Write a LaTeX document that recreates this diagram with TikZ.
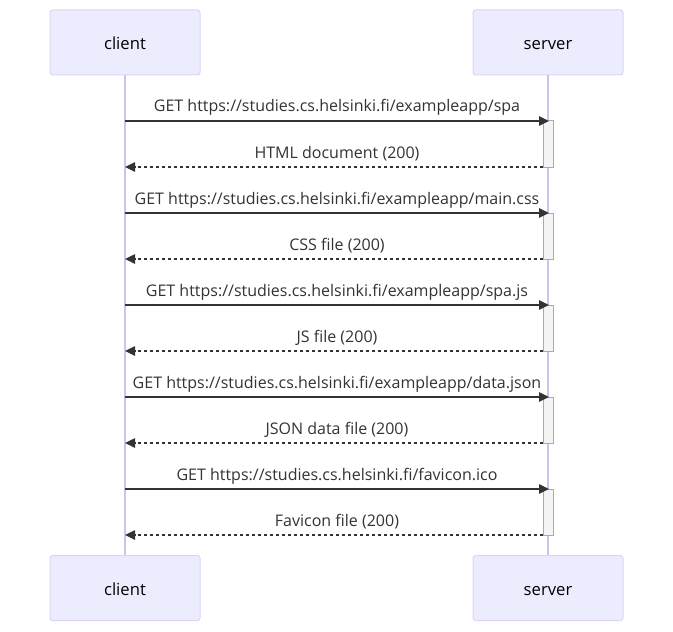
\documentclass[tikz,border=0pt]{standalone}
\usepackage{fontspec}
\setmainfont{Open Sans}
\usetikzlibrary{arrows.meta}
\definecolor{actfill}{HTML}{ECECFF}
\definecolor{actdraw}{HTML}{DCD4F4}
\definecolor{lifecol}{HTML}{CFC3EE}
\definecolor{msgcol}{HTML}{333333}
\definecolor{actvfill}{HTML}{F4F4F4}
\definecolor{actvdraw}{HTML}{AAAAAA}
\begin{document}
\begin{tikzpicture}[x=0.75pt,y=-0.75pt,
  actorbox/.style={draw=actdraw,fill=actfill,rounded corners=2pt,line width=0.75pt,minimum width=112.5pt,minimum height=48.75pt,font=\fontsize{12.5}{14}\selectfont,inner sep=0pt,text height=11pt,text depth=0pt},
  lifeline/.style={draw=lifecol,line width=0.9pt},
  actv/.style={draw=actvdraw,fill=actvfill,line width=0.75pt},
  reqmsg/.style={draw=msgcol,line width=1.1pt,-{Triangle[length=7.5pt,width=7pt]}},
  resmsg/.style={draw=msgcol,line width=1.1pt,dash pattern=on 2.25pt off 2.25pt,-{Triangle[length=7.5pt,width=7pt]}},
  msglabel/.style={font=\fontsize{12}{14}\selectfont,text=msgcol,inner sep=0pt,anchor=base}]
\useasboundingbox (0,0) rectangle (673,631);
\node[actorbox] (c1) at (125,42.5) {client};
\node[actorbox] (s1) at (548,42.5) {server};
\node[actorbox] (c2) at (125,588) {client};
\node[actorbox] (s2) at (548,588) {server};
\draw[lifeline] (c1.south) -- (c2.north);
\draw[lifeline] (s1.south) -- (s2.north);
\foreach \i/\req/\res in {0/{GET https://studies.cs.helsinki.fi/exampleapp/spa}/{HTML document (200)},
  1/{GET https://studies.cs.helsinki.fi/exampleapp/main.css}/{CSS file (200)},
  2/{GET https://studies.cs.helsinki.fi/exampleapp/spa.js}/{JS file (200)},
  3/{GET https://studies.cs.helsinki.fi/exampleapp/data.json}/{JSON data file (200)},
  4/{GET https://studies.cs.helsinki.fi/favicon.ico}/{Favicon file (200)}}{
  \pgfmathsetmacro{\ya}{121+92*\i}
  \pgfmathsetmacro{\yb}{167+92*\i}
  \coordinate (ca\i) at (125,\ya);
  \coordinate (sa\i) at (549,\ya);
  \coordinate (cb\i) at (125,\yb);
  \coordinate (sb\i) at (543,\yb);
  \draw[actv] (543,\ya) rectangle (553,\yb);
  \node[msglabel] (lq\i) at (337,\ya-9) {\req};
  \node[msglabel] (lr\i) at (337,\yb-9) {\res};
  \draw[reqmsg] (ca\i) -- (sa\i);
  \draw[resmsg] (sb\i) -- (cb\i);
}
\end{tikzpicture}
\end{document}
